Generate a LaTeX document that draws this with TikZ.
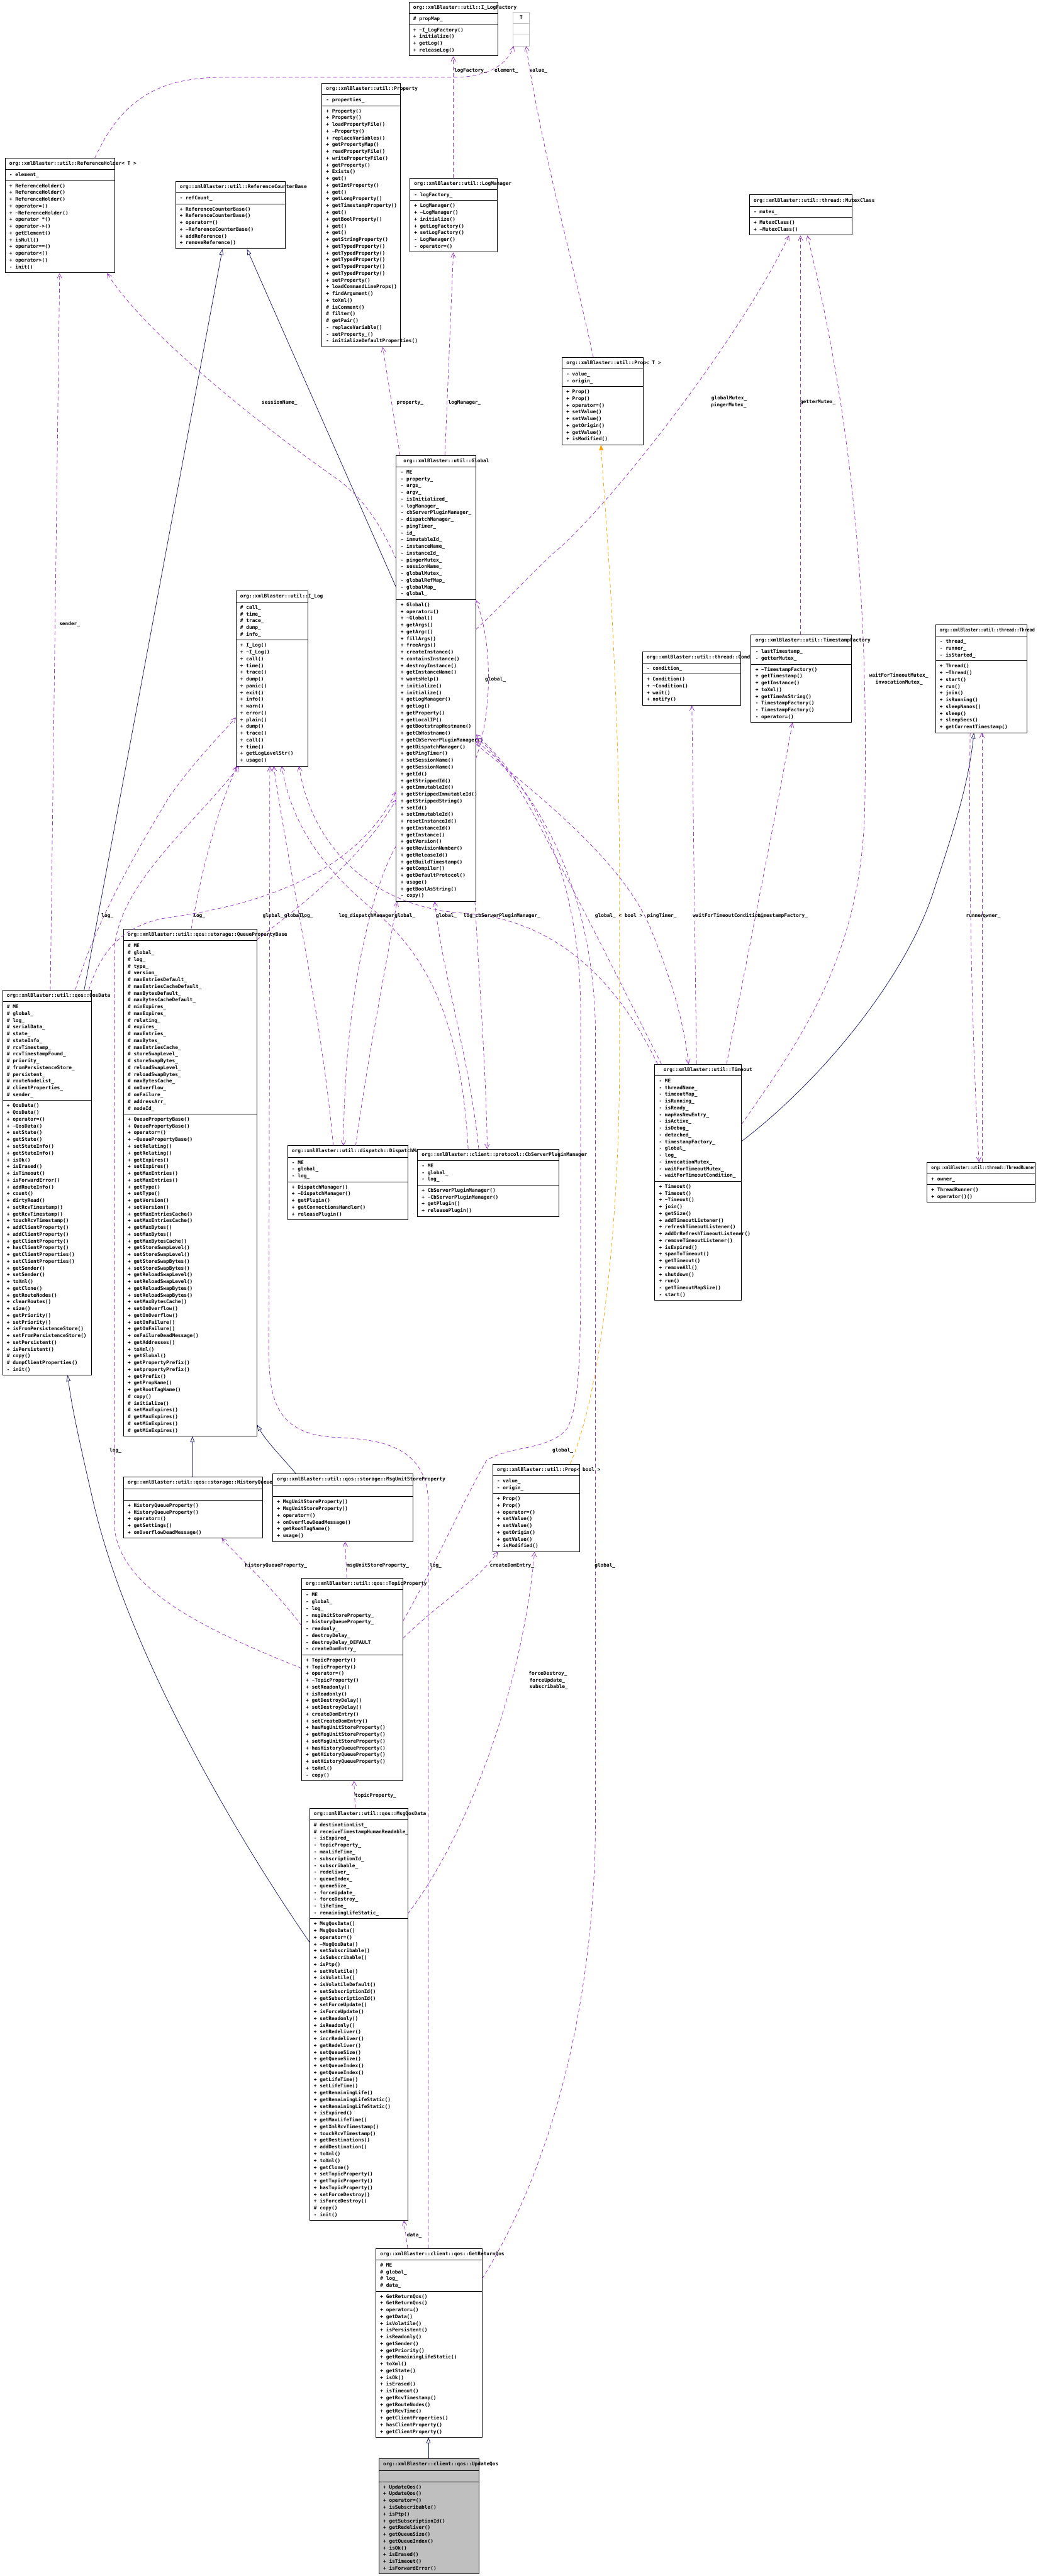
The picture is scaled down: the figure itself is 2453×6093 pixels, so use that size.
\documentclass[tikz,border=0pt]{standalone}
\usepackage{fontspec}
\usepackage{graphicx}
\usetikzlibrary{arrows.meta,calc}
\newfontfamily\dmono{DejaVu Sans Mono}
\definecolor{upurple}{RGB}{154,50,205}
\definecolor{inavy}{RGB}{25,25,112}
\definecolor{torange}{RGB}{255,165,0}
\definecolor{gfill}{RGB}{191,191,191}
\newcommand\tld{\textasciitilde}
\newcommand\hoff{10}
\newcommand\boxfill{white}
\tikzset{
  cls/.style={draw=black, line width=1.3pt, inner sep=0pt, outer sep=0pt},
  sepl/.style={draw=black, line width=1.3pt},
  txt/.style={anchor=west, inner sep=0pt, font=\dmono\bfseries\fontsize{11.6}{14}\selectfont, text height=8.5pt, text depth=2.5pt},
  lbl/.style={txt},
  use/.style={draw=upurple, line width=1.1pt, dash pattern=on 9pt off 6pt, -{Straight Barb[length=11pt,width=11pt]}},
  inh/.style={draw=inavy, line width=1.1pt, -{Triangle[open,length=14pt,width=10pt]}},
  tpl/.style={draw=torange, line width=1.1pt, dash pattern=on 9pt off 6pt, -{Triangle[length=13pt,width=10pt]}},
}
\newcommand\cbox[9]{%
  \pgfmathsetmacro\cbha{#5==0 ? 27 : 16*#5+10}%
  \pgfmathsetmacro\cbya{#3+27}%
  \pgfmathsetmacro\cbym{#3+27+\cbha}%
  \pgfmathsetmacro\cbyb{\cbym+16*#6+10}%
  \pgfmathsetmacro\cbh{\cbyb-#3}%
  \node[cls, fill=\boxfill, minimum width=#4, minimum height=\cbh, anchor=north west] (#1) at (#2,#3) {};
  \draw[sepl] (#2,\cbya) -- ++(#4,0);
  \draw[sepl] (#2,\cbym) -- ++(#4,0);
  \node[txt] at (#2+\hoff,#3+13.5) {#7};
  \foreach \t [count=\i from 0] in {#8} {\node[txt] at (#2+10,\cbya+13.5+16*\i) {\t};}
  \foreach \t [count=\i from 0] in {#9} {\node[txt] at (#2+10,\cbym+13.5+16*\i) {\t};}
}
\begin{document}
\begin{tikzpicture}[x=1pt,y=-1pt]
\fill[white] (0,0) rectangle (2453,6093);
\useasboundingbox (0,0) rectangle (2453,6093);

% ---------- classes ----------
\cbox{logfactory}{967}{5}{210}{1}{4}{org::xmlBlaster::util::I\_LogFactory}
 {\# propMap\_}
 {+ \tld I\_LogFactory(), + initialize(), + getLog(), + releaseLog()}

\node[cls, draw=gfill, minimum width=39, minimum height=80, anchor=north west] (tbox) at (1213,29) {};
\draw[draw=gfill, line width=1.3pt] (1213,56) -- ++(39,0) (1213,83) -- ++(39,0);
\node[txt, anchor=center] (tlabel) at (1232.5,42.5) {T};

\cbox{refholder}{12}{374}{259}{1}{13}{org::xmlBlaster::util::ReferenceHolder< T >}
 {- element\_}
 {+ ReferenceHolder(), + ReferenceHolder(), + ReferenceHolder(), + operator=(), + \tld ReferenceHolder(), + operator *(), + operator->(), + getElement(), + isNull(), + operator==(), + operator<(), + operator>(), - init()}

\cbox{refcount}{415}{429}{260}{1}{6}{org::xmlBlaster::util::ReferenceCounterBase}
 {- refCount\_}
 {+ ReferenceCounterBase(), + ReferenceCounterBase(), + operator=(), + \tld ReferenceCounterBase(), + addReference(), + removeReference()}

\cbox{property}{761}{197}{185}{1}{35}{org::xmlBlaster::util::Property}
 {- properties\_}
 {+ Property(), + Property(), + loadPropertyFile(), + \tld Property(), + replaceVariables(), + getPropertyMap(), + readPropertyFile(), + writePropertyFile(), + getProperty(), + Exists(), + get(), + getIntProperty(), + get(), + getLongProperty(), + getTimestampProperty(), + get(), + getBoolProperty(), + get(), + get(), + getStringProperty(), + getTypedProperty(), + getTypedProperty(), + getTypedProperty(), + getTypedProperty(), + getTypedProperty(), + setProperty(), + loadCommandLineProps(), + findArgument(), + toXml(), \# isComment(), \# filter(), \# getPair(), - replaceVariable(), - setProperty\_(), - initializeDefaultProperties()}

\cbox{logmanager}{969}{421}{207}{1}{7}{org::xmlBlaster::util::LogManager}
 {- logFactory\_}
 {+ LogManager(), + \tld LogManager(), + initialize(), + getLogFactory(), + setLogFactory(), - LogManager(), - operator=()}

\cbox{mutex}{1772}{461}{243}{1}{2}{org::xmlBlaster::util::thread::MutexClass}
 {- mutex\_}
 {+ MutexClass(), + \tld MutexClass()}

\cbox{propT}{1329}{845}{192}{2}{8}{org::xmlBlaster::util::Prop< T >}
 {- value\_, - origin\_}
 {+ Prop(), + Prop(), + operator=(), + setValue(), + setValue(), + getOrigin(), + getValue(), + isModified()}

\renewcommand\hoff{17}
\cbox{global}{937}{1077}{188}{19}{44}{org::xmlBlaster::util::Global}
 {- ME, - property\_, - args\_, - argv\_, - isInitialized\_, - logManager\_, - cbServerPluginManager\_, - dispatchManager\_, - pingTimer\_, - id\_, - immutableId\_, - instanceName\_, - instanceId\_, - pingerMutex\_, - sessionName\_, - globalMutex\_, - globalRefMap\_, - globalMap\_, - global\_}
 {+ Global(), + operator=(), + \tld Global(), + getArgs(), + getArgc(), + fillArgs(), + freeArgs(), + createInstance(), + containsInstance(), + destroyInstance(), + getInstanceName(), + wantsHelp(), + initialize(), + initialize(), + getLogManager(), + getLog(), + getProperty(), + getLocalIP(), + getBootstrapHostname(), + getCbHostname(), + getCbServerPluginManager(), + getDispatchManager(), + getPingTimer(), + setSessionName(), + getSessionName(), + getId(), + getStrippedId(), + getImmutableId(), + getStrippedImmutableId(), + getStrippedString(), + setId(), + setImmutableId(), + resetInstanceId(), + getInstanceId(), + getInstance(), + getVersion(), + getRevisionNumber(), + getReleaseId(), + getBuildTimestamp(), + getCompiler(), + getDefaultProtocol(), + usage(), + getBoolAsString(), - copy()}
\renewcommand\hoff{10}

\cbox{ilog}{558}{1397}{170}{5}{18}{org::xmlBlaster::util::I\_Log}
 {\# call\_, \# time\_, \# trace\_, \# dump\_, \# info\_}
 {+ I\_Log(), + \tld I\_Log(), + call(), + time(), + trace(), + dump(), + panic(), + exit(), + info(), + warn(), + error(), + plain(), + dump(), + trace(), + call(), + time(), + getLogLevelStr(), + usage()}

\cbox{condition}{1519}{1541}{232}{1}{4}{org::xmlBlaster::util::thread::Condition}
 {- condition\_}
 {+ Condition(), + \tld Condition(), + wait(), + notify()}

\cbox{tsfactory}{1776}{1502}{237}{2}{8}{org::xmlBlaster::util::TimestampFactory}
 {- lastTimestamp\_, - getterMutex\_}
 {+ \tld TimestampFactory(), + getTimestamp(), + getInstance(), + toXml(), + getTimeAsString(), - TimestampFactory(), - TimestampFactory(), - operator=()}

\cbox{thread}{2212}{1478}{216}{3}{10}{\scalebox{0.87}[1]{org::xmlBlaster::util::thread::Thread}}
 {- thread\_, - runner\_, - isStarted\_}
 {+ Thread(), + \tld Thread(), + start(), + run(), + join(), + isRunning(), + sleepNanos(), + sleep(), + sleepSecs(), + getCurrentTimestamp()}

\cbox{qosdata}{6}{2342}{210}{14}{40}{org::xmlBlaster::util::qos::QosData}
 {\# ME, \# global\_, \# log\_, \# serialData\_, \# state\_, \# stateInfo\_, \# rcvTimestamp\_, \# rcvTimestampFound\_, \# priority\_, \# fromPersistenceStore\_, \# persistent\_, \# routeNodeList\_, \# clientProperties\_, \# sender\_}
 {+ QosData(), + QosData(), + operator=(), + \tld QosData(), + setState(), + getState(), + setStateInfo(), + getStateInfo(), + isOk(), + isErased(), + isTimeout(), + isForwardError(), + addRouteInfo(), + count(), + dirtyRead(), + setRcvTimestamp(), + getRcvTimestamp(), + touchRcvTimestamp(), + addClientProperty(), + addClientProperty(), + getClientProperty(), + hasClientProperty(), + getClientProperties(), + setClientProperties(), + getSender(), + setSender(), + toXml(), + getClone(), + getRouteNodes(), + clearRoutes(), + size(), + getPriority(), + setPriority(), + isFromPersistenceStore(), + setFromPersistenceStore(), + setPersistent(), + isPersistent(), \# copy(), \# dumpClientProperties(), - init()}

\cbox{qpb}{292}{2198}{315}{25}{47}{org::xmlBlaster::util::qos::storage::QueuePropertyBase}
 {\# ME, \# global\_, \# log\_, \# type\_, \# version\_, \# maxEntriesDefault\_, \# maxEntriesCacheDefault\_, \# maxBytesDefault\_, \# maxBytesCacheDefault\_, \# minExpires\_, \# maxExpires\_, \# relating\_, \# expires\_, \# maxEntries\_, \# maxBytes\_, \# maxEntriesCache\_, \# storeSwapLevel\_, \# storeSwapBytes\_, \# reloadSwapLevel\_, \# reloadSwapBytes\_, \# maxBytesCache\_, \# onOverflow\_, \# onFailure\_, \# addressArr\_, \# nodeId\_}
 {+ QueuePropertyBase(), + QueuePropertyBase(), + operator=(), + \tld QueuePropertyBase(), + setRelating(), + getRelating(), + getExpires(), + setExpires(), + getMaxEntries(), + setMaxEntries(), + getType(), + setType(), + getVersion(), + setVersion(), + getMaxEntriesCache(), + setMaxEntriesCache(), + getMaxBytes(), + setMaxBytes(), + getMaxBytesCache(), + getStoreSwapLevel(), + setStoreSwapLevel(), + getStoreSwapBytes(), + setStoreSwapBytes(), + getReloadSwapLevel(), + setReloadSwapLevel(), + getReloadSwapBytes(), + setReloadSwapBytes(), + setMaxBytesCache(), + setOnOverflow(), + getOnOverflow(), + setOnFailure(), + getOnFailure(), + onFailureDeadMessage(), + getAddresses(), + toXml(), + getGlobal(), + getPropertyPrefix(), + setpropertyPrefix(), + getPrefix(), + getPropName(), + getRootTagName(), \# copy(), \# initialize(), \# setMaxExpires(), \# getMaxExpires(), \# setMinExpires(), \# getMinExpires()}

\cbox{dispatch}{680}{2710}{284}{3}{5}{org::xmlBlaster::util::dispatch::DispatchManager}
 {- ME, - global\_, - log\_}
 {+ DispatchManager(), + \tld DispatchManager(), + getPlugin(), + getConnectionsHandler(), + releasePlugin()}

\cbox{cbserver}{987}{2718}{334}{3}{4}{org::xmlBlaster::client::protocol::CbServerPluginManager}
 {- ME, - global\_, - log\_}
 {+ CbServerPluginManager(), + \tld CbServerPluginManager(), + getPlugin(), + releasePlugin()}

\renewcommand\hoff{21}
\cbox{timeout}{1548}{2517}{205}{15}{17}{org::xmlBlaster::util::Timeout}
 {- ME, - threadName\_, - timeoutMap\_, - isRunning\_, - isReady\_, - mapHasNewEntry\_, - isActive\_, - isDebug\_, - detached\_, - timestampFactory\_, - global\_, - log\_, - invocationMutex\_, - waitForTimeoutMutex\_, - waitForTimeoutCondition\_}
 {+ Timeout(), + Timeout(), + \tld Timeout(), + join(), + getSize(), + addTimeoutListener(), + refreshTimeoutListener(), + addOrRefreshTimeoutListener(), + removeTimeoutListener(), + isExpired(), + spanToTimeout(), + getTimeout(), + removeAll(), + shutdown(), + run(), - getTimeoutMapSize(), - start()}
\renewcommand\hoff{10}

\cbox{threadrunner}{2192}{2749}{256}{1}{2}{\scalebox{0.82}[1]{org::xmlBlaster::util::thread::ThreadRunner}}
 {+ owner\_}
 {+ ThreadRunner(), + operator()()}

\cbox{hqp}{292}{3494}{329}{0}{5}{org::xmlBlaster::util::qos::storage::HistoryQueueProperty}
 {}
 {+ HistoryQueueProperty(), + HistoryQueueProperty(), + operator=(), + getSettings(), + onOverflowDeadMessage()}

\cbox{musp}{645}{3486}{331}{0}{6}{org::xmlBlaster::util::qos::storage::MsgUnitStoreProperty}
 {}
 {+ MsgUnitStoreProperty(), + MsgUnitStoreProperty(), + operator=(), + onOverflowDeadMessage(), + getRootTagName(), + usage()}

\cbox{propbool}{1165}{3463}{206}{2}{8}{org::xmlBlaster::util::Prop< bool >}
 {- value\_, - origin\_}
 {+ Prop(), + Prop(), + operator=(), + setValue(), + setValue(), + getOrigin(), + getValue(), + isModified()}

\cbox{topic}{713}{3733}{240}{9}{18}{org::xmlBlaster::util::qos::TopicProperty}
 {- ME, - global\_, - log\_, - msgUnitStoreProperty\_, - historyQueueProperty\_, - readonly\_, - destroyDelay\_, - destroyDelay\_DEFAULT, - createDomEntry\_}
 {+ TopicProperty(), + TopicProperty(), + operator=(), + \tld TopicProperty(), + setReadonly(), + isReadonly(), + getDestroyDelay(), + setDestroyDelay(), + createDomEntry(), + setCreateDomEntry(), + hasMsgUnitStoreProperty(), + getMsgUnitStoreProperty(), + setMsgUnitStoreProperty(), + hasHistoryQueueProperty(), + getHistoryQueueProperty(), + setHistoryQueueProperty(), + toXml(), - copy()}

\cbox{msgqos}{732}{4277}{232}{14}{44}{org::xmlBlaster::util::qos::MsgQosData}
 {\# destinationList\_, \# receiveTimestampHumanReadable\_, - isExpired\_, - topicProperty\_, - maxLifeTime\_, - subscriptionId\_, - subscribable\_, - redeliver\_, - queueIndex\_, - queueSize\_, - forceUpdate\_, - forceDestroy\_, - lifeTime\_, - remainingLifeStatic\_}
 {+ MsgQosData(), + MsgQosData(), + operator=(), + \tld MsgQosData(), + setSubscribable(), + isSubscribable(), + isPtp(), + setVolatile(), + isVolatile(), + isVolatileDefault(), + setSubscriptionId(), + getSubscriptionId(), + setForceUpdate(), + isForceUpdate(), + setReadonly(), + isReadonly(), + setRedeliver(), + incrRedeliver(), + getRedeliver(), + setQueueSize(), + getQueueSize(), + setQueueIndex(), + getQueueIndex(), + getLifeTime(), + setLifeTime(), + getRemainingLife(), + getRemainingLifeStatic(), + setRemainingLifeStatic(), + isExpired(), + getMaxLifeTime(), + getXmlRcvTimestamp(), + touchRcvTimestamp(), + getDestinations(), + addDestination(), + toXml(), + toXml(), + getClone(), + setTopicProperty(), + getTopicProperty(), + hasTopicProperty(), + setForceDestroy(), + isForceDestroy(), \# copy(), - init()}

\cbox{getreturn}{889}{5318}{251}{4}{21}{org::xmlBlaster::client::qos::GetReturnQos}
 {\# ME, \# global\_, \# log\_, \# data\_}
 {+ GetReturnQos(), + GetReturnQos(), + operator=(), + getData(), + isVolatile(), + isPersistent(), + isReadonly(), + getSender(), + getPriority(), + getRemainingLifeStatic(), + toXml(), + getState(), + isOk(), + isErased(), + isTimeout(), + getRcvTimestamp(), + getRouteNodes(), + getRcvTime(), + getClientProperties(), + hasClientProperty(), + getClientProperty()}

\renewcommand\boxfill{gfill}
\cbox{updateqos}{896}{5816}{236}{0}{13}{org::xmlBlaster::client::qos::UpdateQos}
 {}
 {+ UpdateQos(), + UpdateQos(), + operator=(), + isSubscribable(), + isPtp(), + getSubscriptionId(), + getRedeliver(), + getQueueSize(), + getQueueIndex(), + isOk(), + isErased(), + isTimeout(), + isForwardError()}
\renewcommand\boxfill{white}

% ---------- inheritance ----------
\draw[inh] ($(global.north west)+(0,313)$) -- ($(refcount.north west)+(169,160)$);
\draw[inh] ($(qosdata.north west)+(193,0)$) -- ($(refcount.north west)+(111,160)$);
\draw[inh] ($(msgqos.north west)+(0,317)$) .. controls (550,4330) and (300,3900) .. (220,3550) .. controls (190,3420) and (170,3330) .. ($(qosdata.north west)+(154,911)$);
\draw[inh] ($(hqp.north west)+(163,0)$) -- ($(qpb.north west)+(163,1199)$);
\draw[inh] ($(musp.north west)+(55,0)$) .. controls (670,3450) and (630,3410) .. ($(qpb.north west)+(316,1172)$);
\draw[inh] ($(updateqos.north west)+(117,0)$) -- ($(getreturn.north west)+(124,447)$);
\draw[inh] ($(timeout.north west)+(205,183)$) .. controls (1950,2550) and (2150,2300) .. (2211,2097) .. controls (2260,1950) and (2290,1850) .. ($(thread.north west)+(91,255)$);

% ---------- template instance ----------
\draw[tpl] ($(propbool.north west)+(183,0)$) .. controls (1420,3300) and (1465,2900) .. (1465,2500) -- (1465,2100) .. controls (1465,1600) and (1430,1200) .. ($(propT.north west)+(92,207)$);
\node[lbl] (lbool) at (1463,2167) {< bool >};

% ---------- usage ----------
\draw[use] ($(logmanager.north west)+(103,0)$) -- ($(logfactory.north west)+(105,128)$);
\node[lbl] (l1) at (1074,167) {logFactory\_};

\draw[use] ($(refholder.north west)+(212,0)$) .. controls (290,230) and (380,185) .. (520,183) -- (1080,183) .. controls (1160,180) and (1200,150) .. ($(tbox.north west)+(2,80)$);
\node[lbl] (l2) at (1169,167) {element\_};

\draw[use] ($(propT.north west)+(74,0)$) .. controls (1350,600) and (1280,350) .. ($(tbox.north west)+(31,80)$);
\node[lbl] (l3) at (1252,167) {value\_};

\draw[use] ($(global.north west)+(9,0)$) -- ($(property.north west)+(144,624)$);
\node[lbl] (l4) at (938,952) {property\_};

\draw[use] ($(global.north west)+(115,0)$) -- ($(logmanager.north west)+(103,176)$);
\node[lbl] (l5) at (1060,952) {logManager\_};

\draw[use] ($(global.north west)+(0,246)$) .. controls (900,1240) and (860,1180) .. (800,1135) .. controls (650,1030) and (350,800) .. ($(refholder.north west)+(241,272)$);
\node[lbl, anchor=east] (l6) at (703,952) {sessionName\_};

\draw[use] ($(global.north west)+(188,412)$) .. controls (1200,1420) and (1270,1340) .. (1330,1290) .. controls (1480,1150) and (1760,780) .. ($(mutex.north west)+(94,96)$);
\node[lbl] (l7a) at (1682,943) {globalMutex\_};
\node[lbl] (l7b) at (1681,959) {pingerMutex\_};

\draw[use] ($(tsfactory.north west)+(117,0)$) -- ($(mutex.north west)+(121,96)$);
\node[lbl] (l8) at (1892,951) {getterMutex\_};

\draw[use] ($(timeout.north west)+(205,143)$) .. controls (1900,2450) and (2040,2250) .. (2045,1900) .. controls (2052,1500) and (2030,1050) .. ($(mutex.north west)+(137,96)$);
\node[lbl] (l9a) at (2055,1599) {waitForTimeoutMutex\_};
\node[lbl] (l9b) at (2070,1615) {invocationMutex\_};

\draw[use] ($(timeout.north west)+(99,0)$) -- ($(condition.north west)+(117,128)$);
\node[lbl] (l10) at (1638,2167) {waitForTimeoutCondition\_};

\draw[use] ($(timeout.north west)+(170,0)$) .. controls (1760,2300) and (1830,1950) .. ($(tsfactory.north west)+(98,207)$);
\node[lbl] (l11) at (1791,2167) {timestampFactory\_};

\draw[use] ($(global.north west)+(188,683)$) .. controls (1300,1900) and (1480,2050) .. (1540,2200) .. controls (1580,2300) and (1615,2400) .. ($(timeout.north west)+(80,0)$);
\node[lbl] (l12) at (1530,2167) {pingTimer\_};

\draw[use] ($(timeout.north west)+(16,0)$) .. controls (1480,2350) and (1380,2150) .. (1300,2000) .. controls (1250,1900) and (1190,1790) .. ($(global.north west)+(188,668)$);
\node[lbl] (l13) at (1407,2167) {global\_};

\draw[use] ($(timeout.north west)+(7,0)$) .. controls (1450,2300) and (1300,2175) .. (1100,2160) .. controls (900,2150) and (740,2020) .. ($(ilog.north west)+(149,415)$);
\node[lbl] (l14) at (712,2167) {log\_};

\draw[use] ($(qosdata.north west)+(172,0)$) .. controls (220,2200) and (300,2050) .. (400,1885) .. controls (460,1800) and (520,1740) .. ($(ilog.north west)+(0,300)$);
\node[lbl] (l15) at (240,2167) {log\_};

\draw[use] ($(qpb.north west)+(160,0)$) .. controls (470,2100) and (500,1950) .. ($(ilog.north west)+(2,415)$);
\node[lbl] (l16) at (457,2167) {log\_};

\draw[use] ($(topic.north west)+(0,213)$) .. controls (500,3860) and (272,3760) .. (270,3600) -- (270,2260) .. controls (270,2100) and (450,1960) .. ($(ilog.north west)+(8,415)$);
\node[lbl] (l17) at (259,3431) {log\_};

\draw[use] ($(getreturn.north west)+(124,0)$) -- (1013,3560) .. controls (1013,3420) and (900,3405) .. (800,3400) .. controls (660,3395) and (636,3320) .. (636,3200) -- ($(ilog.north west)+(80,415)$);
\node[lbl] (l18) at (1016,3703) {log\_};

\draw[use] ($(dispatch.north west)+(108,0)$) .. controls (760,2400) and (690,2100) .. ($(ilog.north west)+(89,415)$);
\node[lbl] (l19) at (801,2167) {log\_};

\draw[use] ($(cbserver.north west)+(120,0)$) .. controls (1090,2400) and (1000,2250) .. (880,2150) .. controls (760,2050) and (690,1950) .. ($(ilog.north west)+(108,415)$);
\node[lbl] (l20) at (1096,2167) {log\_};

\draw[use] ($(dispatch.north west)+(161,0)$) .. controls (870,2500) and (910,2300) .. ($(global.north west)+(2,1055)$);
\node[lbl] (l21) at (933,2167) {global\_};

\draw[use] ($(global.north west)+(0,923)$) .. controls (880,2100) and (815,2350) .. ($(dispatch.north west)+(132,0)$);
\node[lbl] (l22) at (827,2167) {dispatchManager\_};

\draw[use] ($(cbserver.north west)+(145,0)$) .. controls (1110,2500) and (1045,2300) .. ($(global.north west)+(91,1055)$);
\node[lbl] (l23) at (1031,2167) {global\_};

\draw[use] ($(global.north west)+(186,1055)$) .. controls (1135,2350) and (1150,2550) .. ($(cbserver.north west)+(165,0)$);
\node[lbl] (l24) at (1124,2167) {cbServerPluginManager\_};

\draw[use] ($(qosdata.north west)+(204,0)$) .. controls (240,2240) and (300,2185) .. (400,2170) .. controls (650,2135) and (850,2050) .. ($(global.north west)+(0,795)$);
\node[lbl] (l25) at (621,2167) {global\_};

\draw[use] ($(qpb.north west)+(315,25)$) .. controls (700,2150) and (850,2040) .. ($(global.north west)+(0,814)$);
\node[lbl] (l26) at (672,2167) {global\_};

\draw[use] ($(topic.north west)+(240,101)$) .. controls (1030,3700) and (1090,3560) .. (1150,3455) .. controls (1200,3420) and (1300,3430) .. (1340,3380) .. controls (1370,3330) and (1373,3200) .. (1373,3000) -- (1373,2400) .. controls (1373,2050) and (1250,1850) .. ($(global.north west)+(188,660)$);
\node[lbl] (l27) at (1306,3431) {global\_};

\draw[use] ($(getreturn.north west)+(251,72)$) .. controls (1320,5100) and (1408,4700) .. (1408,4300) -- (1408,2450) .. controls (1408,2100) and (1260,1850) .. ($(global.north west)+(188,676)$);
\node[lbl] (l28) at (1406,3703) {global\_};

\draw[use] ($(qosdata.north west)+(113,0)$) -- ($(refholder.north west)+(129,272)$);
\node[lbl] (l29) at (140,1477) {sender\_};

\draw[use] ($(msgqos.north west)+(232,250)$) .. controls (1100,4350) and (1235,4000) .. ($(propbool.north west)+(99,207)$);
\node[lbl] (l30a) at (1250,3959) {forceDestroy\_};
\node[lbl] (l30b) at (1252,3975) {forceUpdate\_};
\node[lbl] (l30c) at (1252,3991) {subscribable\_};

\draw[use] ($(topic.north west)+(240,142)$) .. controls (1050,3780) and (1130,3740) .. ($(propbool.north west)+(12,207)$);
\node[lbl] (l31) at (1158,3703) {createDomEntry\_};

\draw[use] ($(topic.north west)+(107,0)$) -- ($(musp.north west)+(171,160)$);
\node[lbl] (l32) at (820,3703) {msgUnitStoreProperty\_};

\draw[use] ($(topic.north west)+(0,112)$) .. controls (650,3760) and (570,3690) .. ($(hqp.north west)+(232,144)$);
\node[lbl] (l33) at (579,3703) {historyQueueProperty\_};

\draw[use] ($(msgqos.north west)+(108,0)$) -- ($(topic.north west)+(124,479)$);
\node[lbl] (l34) at (839,4247) {topicProperty\_};

\draw[use] ($(getreturn.north west)+(75,0)$) -- ($(msgqos.north west)+(223,975)$);
\node[lbl] (l35) at (962,5287) {data\_};

\draw[use] ($(thread.north west)+(82,255)$) .. controls (2290,2100) and (2300,2500) .. ($(threadrunner.north west)+(123,0)$);
\node[lbl] (l36) at (2284,2167) {runner\_};
\draw[use] ($(threadrunner.north west)+(130,0)$) -- ($(thread.north west)+(110,255)$);
\node[lbl] (l37) at (2324,2167) {owner\_};

\draw[use] ($(global.north west)+(188,718)$) .. controls (1165,1680) and (1165,1520) .. ($(global.north west)+(188,342)$);
\node[lbl] (l38) at (1147,1607) {global\_};

\end{tikzpicture}
\end{document}
